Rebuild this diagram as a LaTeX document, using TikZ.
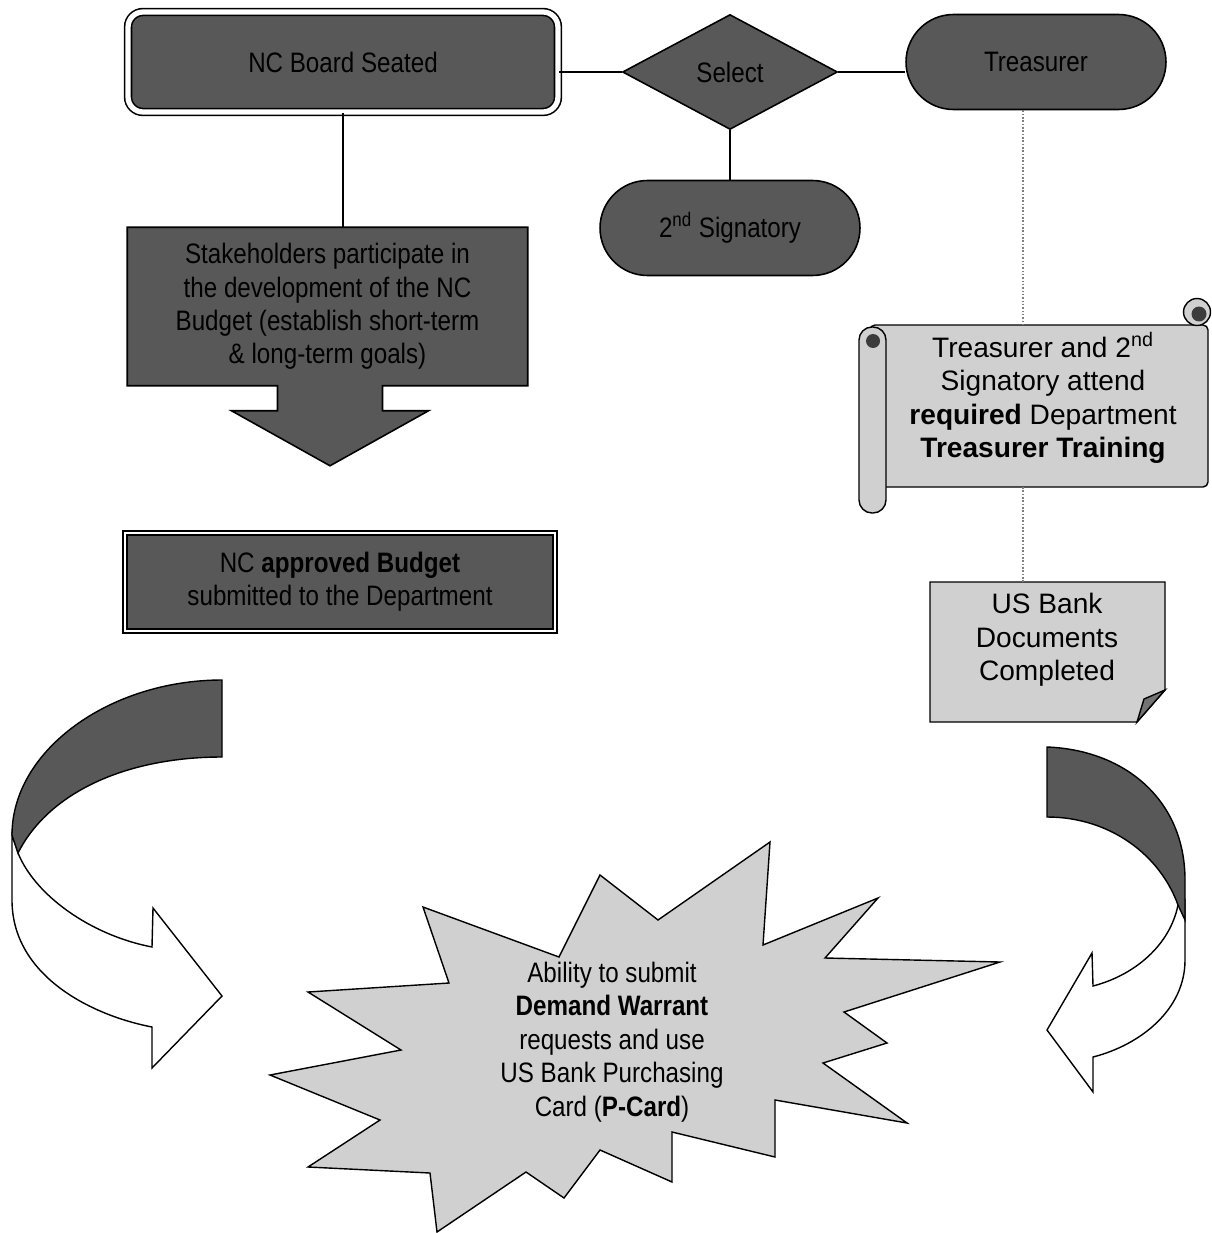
\documentclass[tikz,border=0pt]{standalone}
\usepackage{fontspec}
\setmainfont{Liberation Sans}
\newfontfamily\narrowsf[FakeStretch=0.86]{Liberation Sans}
\usepackage{tikz}
\usetikzlibrary{
	arrows.meta, shapes.geometric, positioning, calc, backgrounds
}
\definecolor{boxdark}  {RGB}{88,  88,  88}
\definecolor{boxlight} {RGB}{208, 208, 208}
\definecolor{rolldark} {RGB}{60,  60,  60}

\begin{document}
\begin{tikzpicture}[x=0.02cm,y=-0.02cm,
		darkbox/.style={draw,fill=boxdark,line width=0.9pt,text=black,
			font=\narrowsf\fontsize{16}{19}\selectfont,align=center},
		pill/.style={darkbox,rounded corners=0.95cm,minimum width=5.2cm,minimum height=1.9cm},
		lightfill/.style={draw,fill=boxlight,line width=0.8pt},
		bigtext/.style={font=\fontsize{16}{19}\selectfont,align=center},
		link/.style={line width=0.8pt},
		dotlink/.style={gray,densely dotted,line width=0.9pt}
	]
	\useasboundingbox (0,0) rectangle (1212,1233);

	% top row
	\node[darkbox,draw,double=white,double distance=3pt,rounded corners=0.3cm,
		minimum width=8.6cm,minimum height=2cm] (board) at (343,62) {NC Board Seated};
	\node[darkbox,diamond,inner sep=0pt,minimum width=4.3cm,minimum height=2.3cm] (select) at (730,72) {Select};
	\node[pill] (treasurer) at (1036,62) {Treasurer};
	\node[pill] (second) at (730,228) {2\textsuperscript{nd} Signatory};

	\draw[link] (select.west) -- (select.west -| board.east);
	\draw[link] (select.east) -- (select.east -| treasurer.west);
	\draw[link] (select.south) -- (second.north);

	% left column
	\node[darkbox,draw=none,fill=none,minimum width=7.98cm,minimum height=3.14cm] (stake) at (327.5,306.5)
		{Stakeholders participate in\\ the development of the NC\\ Budget (establish short-term\\ \& long-term goals)};
	\begin{scope}[on background layer]
		\draw[darkbox] (stake.south west) -- (stake.north west) -- (stake.north east) -- (stake.south east)
			-- ($(stake.south)+(55,0)$) -- ++(0,25) -- ++(46,0) -- ($(stake.south)+(2.5,80)$)
			-- ($(stake.south)+(-96,25)$) -- ++(46,0) -- ++(0,-25) -- cycle;
	\end{scope}
	\draw[link] (board.south) -- (board.south |- stake.north);

	\node[darkbox,double=white,double distance=1.2pt,minimum width=8.6cm,minimum height=1.96cm] (budget) at (340,582)
		{NC \textbf{approved Budget}\\ submitted to the Department};

	% right column: scroll
	\draw[lightfill,rounded corners=0.1cm] (870,325) rectangle (1208,487);
	\draw[lightfill] (1197,312) circle (0.27cm);
	\fill[rolldark] (1199,314) circle (0.15cm);
	\draw[lightfill,rounded corners=0.26cm] (859,327) rectangle (886,513);
	\fill[rolldark] (873,341) circle (0.14cm);
	\node[bigtext] (scroll) at (1043,398)
		{Treasurer and 2\textsuperscript{nd}\\ Signatory attend\\ \textbf{required} Department\\ \textbf{Treasurer Training}};

	% bank documents
	\draw[lightfill] (930,582) -- (1165,582) -- (1165,690) -- (1137,722) -- (930,722) -- cycle;
	\draw[lightfill,fill=black!55] (1165,690) -- (1144,699) -- (1137,722) -- cycle;
	\node[bigtext] (bankdoc) at (1047,640) {US Bank\\ Documents\\ Completed};

	\coordinate (dotx) at (1023,0);
	\draw[dotlink] (treasurer.south -| dotx) -- (1023,325);
	\draw[dotlink] (1023,487) -- (1023,582);

	% curved arrows
	\draw[lightfill,fill=white] (12,835) -- (12,900) .. controls (12,975) and (90,1015) .. (152,1027)
		-- (152,1068) -- (222,996) -- (153,908) -- (152,947)
		.. controls (90,935) and (35,895) .. (18,853) -- cycle;
	\draw[lightfill,fill=boxdark] (222,680) .. controls (110,680) and (12,750) .. (12,835)
		-- (18,853) .. controls (50,790) and (130,757) .. (222,757) -- cycle;

	\draw[lightfill,fill=white] (1185,900) -- (1185,960) .. controls (1185,1010) and (1140,1045) .. (1093,1057)
		-- (1093,1092) -- (1047,1030) -- (1092,953) -- (1093,986)
		.. controls (1135,975) and (1170,945) .. (1178,905) -- cycle;
	\draw[lightfill,fill=boxdark] (1047,747) .. controls (1125,750) and (1185,800) .. (1185,880)
		-- (1185,920) -- (1178,905) .. controls (1160,855) and (1110,817) .. (1047,817) -- cycle;

	% starburst
	\draw[lightfill] (270,1075) -- (401,1050) -- (308,992) -- (449,983) -- (423,907) -- (559,957)
		-- (600,875) -- (658,920) -- (770,842) -- (763,945) -- (878,898) -- (825,958)
		-- (1000,962) -- (844,1012) -- (887,1043) -- (823,1063) -- (907,1123) -- (775,1100)
		-- (775,1157) -- (672,1132) -- (672,1182) -- (600,1150) -- (564,1198) -- (526,1172)
		-- (437,1232) -- (430,1173) -- (308,1167) -- (380,1120) -- cycle;
	\node[font=\narrowsf\fontsize{16}{19}\selectfont,align=center] (star) at (612,1042)
		{Ability to submit\\ \textbf{Demand Warrant}\\ requests and use\\ US Bank Purchasing\\ Card (\textbf{P-Card})};
\end{tikzpicture}
\end{document}
